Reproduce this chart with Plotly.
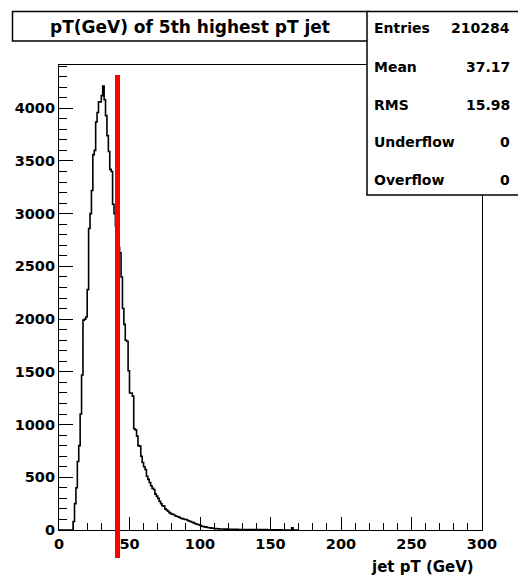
import plotly.graph_objects as go

# ---------------- data ----------------
BIN_WIDTH = 1.0          # GeV
X_RANGE = [0, 300]
Y_MAX = 4410
CUT_GEV = 41.5           # red marker line

counts = [
    0, 0, 0, 0, 0, 0, 0, 0, 0, 0,                          # 0-9
    80, 250, 400, 650, 800, 1100, 1470, 1990, 2000, 2020,  # 10-19
    2280, 2860, 3000, 3220, 3560, 3600, 3870, 3960, 4060, 4060,  # 20-29
    4120, 4210, 4080, 3930, 3740, 3590, 3420, 3400, 3090, 3000,  # 30-39
    2880, 2760, 2680, 2630, 2400, 2100, 1950, 1800, 1790, 1510,  # 40-49
    1300, 1300, 1270, 960, 950, 890, 800, 795, 700, 640,         # 50-59
    600, 574, 510, 480, 450, 420, 395, 384, 340, 321,            # 60-69
    300, 273, 250, 230, 226, 200, 190, 178, 165, 155,            # 70-79
    150, 147, 135, 130, 125, 121, 112, 108, 104, 100,            # 80-89
    100, 90, 85, 80, 74, 70, 62, 57, 52, 50,                     # 90-99
    42, 36, 33, 30, 27, 24, 22, 20, 18, 16,                      # 100-109
    14, 13, 12, 11, 10, 9, 9, 8, 8, 8,                           # 110-119
    7, 7, 6, 6, 6, 6, 6, 5, 5, 5,                                # 120-129
    5, 5, 5, 5, 5, 5, 5, 5, 5, 5,                                # 130-139
    5, 4, 4, 4, 4, 4, 4, 4, 3, 3,                                # 140-149
    3, 3, 3, 3, 3, 2, 2, 1, 0, 0,                                # 150-159
    0, 0, 0, 0, 0, 20, 0, 0, 0, 0,                               # 160-169
]

title_text = "pT(GeV) of 5th highest pT jet"
x_title = "jet pT (GeV)"
stat_labels = ["Entries", "Mean", "RMS", "Underflow", "Overflow"]
stat_values = ["210284", "37.17", "15.98", "0", "0"]

# ---------------- figure geometry ----------------
W, H = 518, 577
ML, MR, MT, MB = 59, 36, 65, 47
PW, PH = W - ML - MR, H - MT - MB


def px(xp):
    return (xp - ML) / PW


def py(yp):
    return (H - MB - yp) / PH


FONT = "DejaVu Sans"

# step outline of the histogram
edges = [i * BIN_WIDTH for i in range(len(counts) + 1)]
xs = edges[:-1] + [edges[-1], edges[-1]]
ys = counts + [counts[-1], 0]

fig = go.Figure()
fig.add_trace(go.Scatter(
    x=xs, y=ys, mode="lines", line=dict(color="black", width=1.6, shape="hv"),
    hoverinfo="skip", showlegend=False,
))

shapes = [
    # red marker line (crosses below the axis)
    dict(type="line", xref="x", yref="paper", x0=CUT_GEV, x1=CUT_GEV,
         y0=py(558), y1=py(75), line=dict(color="#ff0000", width=5), layer="above"),
    # title box
    dict(type="rect", xref="paper", yref="paper", x0=px(12.5), x1=px(369),
         y0=py(41), y1=py(11.5), line=dict(color="black", width=1.5),
         fillcolor="white", layer="above"),
    # stats box
    dict(type="rect", xref="paper", yref="paper", x0=px(367), x1=px(522),
         y0=py(195), y1=py(11.5), line=dict(color="black", width=1.5),
         fillcolor="white", layer="above"),
]

annotations = [
    dict(text="<b>%s</b>" % title_text, xref="paper", yref="paper",
         x=px(190), y=py(26.5), xanchor="center", yanchor="middle",
         showarrow=False, font=dict(family=FONT, size=17, color="black")),
    dict(text="<b>%s</b>" % x_title, xref="paper", yref="paper",
         x=px(476), y=py(567), xanchor="right", yanchor="middle",
         showarrow=False, font=dict(family=FONT, size=15, color="black")),
]
row_y = [28.3, 66.7, 105, 141.7, 180]
for lab, val, yy in zip(stat_labels, stat_values, row_y):
    annotations.append(dict(text="<b>%s</b>" % lab, xref="paper", yref="paper",
                            x=px(372), y=py(yy), xanchor="left", yanchor="middle",
                            showarrow=False, font=dict(family=FONT, size=14, color="black")))
    annotations.append(dict(text="<b>%s</b>" % val, xref="paper", yref="paper",
                            x=px(512), y=py(yy), xanchor="right", yanchor="middle",
                            showarrow=False, font=dict(family=FONT, size=14, color="black")))

tickfont = dict(family=FONT, size=14.5, color="black", weight="bold")

fig.update_layout(
    width=W, height=H,
    margin=dict(l=ML, r=MR, t=MT, b=MB, pad=0),
    paper_bgcolor="white", plot_bgcolor="white",
    showlegend=False,
    shapes=shapes, annotations=annotations,
    xaxis=dict(range=X_RANGE, showgrid=False, zeroline=False,
               showline=True, mirror=True, linecolor="black", linewidth=1.2,
               ticks="inside", ticklen=13, tickwidth=1, tickcolor="black",
               tick0=0, dtick=50, tickfont=tickfont,
               minor=dict(ticks="inside", ticklen=7, dtick=10, tickcolor="black", tickwidth=1)),
    yaxis=dict(range=[0, Y_MAX], showgrid=False, zeroline=False,
               showline=True, mirror=True, linecolor="black", linewidth=1.2,
               ticks="inside", ticklen=14, tickwidth=1, tickcolor="black",
               tick0=0, dtick=500, tickfont=tickfont,
               minor=dict(ticks="inside", ticklen=8, dtick=100, tickcolor="black", tickwidth=1)),
)

fig.write_html("out.html")
